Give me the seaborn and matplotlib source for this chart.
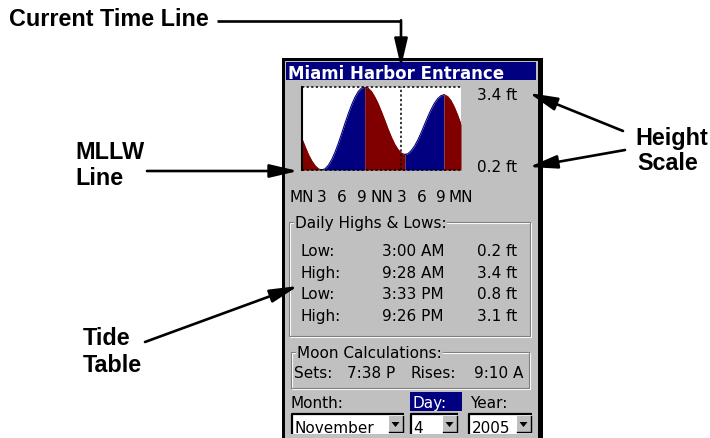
import numpy as np
import pandas as pd
import seaborn as sns
import matplotlib.pyplot as plt
from matplotlib.patches import Rectangle, Polygon

# What the unit shows
station = "Miami Harbor Entrance"
tide_kind = ["Low", "High", "Low", "High"]
tide_time = ["3:00 AM", "9:28 AM", "3:33 PM", "9:26 PM"]
tide_ft = [0.2, 3.4, 0.8, 3.1]

# tide height, every half hour from midnight to midnight
curve_ft = [1.40, 1.08, 0.78, 0.54, 0.36, 0.24, 0.20,
            0.25, 0.39, 0.61, 0.90, 1.24, 1.62, 2.01, 2.38, 2.72, 3.01, 3.23, 3.36,
            3.40, 3.35, 3.22, 3.01, 2.75, 2.44, 2.11, 1.77, 1.46, 1.19, 0.99, 0.85,
            0.80, 0.83, 0.95, 1.13, 1.37, 1.65, 1.96, 2.26, 2.54, 2.78, 2.96, 3.07,
            3.10, 3.03, 2.87, 2.62, 2.31, 1.95]
now_hour = 14.9

scale_top, scale_bottom = 3.4, 0.2
hour_ticks = [0, 3, 6, 9, 12, 15, 18, 21, 24]
hour_labels = ["MN", "3", "6", "9", "NN", "3", "6", "9", "MN"]

moon_sets = "7:38 P"
moon_rises = "9:10 A"
month, day, year = "November", "4", "2005"

GRAY = "#c0c0c0"
NAVY = "#000080"
MAROON = "#800000"
SCREEN = "DejaVu Sans"
CALLOUT = dict(family="Liberation Sans", fontweight="bold", fontsize=16.8, va="baseline")


def to_hours(s):
    hm, ampm = s.split()
    h, m = map(int, hm.split(":"))
    return h % 12 + (12 if ampm == "PM" else 0) + m / 60


# build the curve table, split into rising / falling stretches between turns
turns = [to_hours(t) for t in tide_time]
pts = pd.DataFrame({"hour": np.arange(len(curve_ft)) * 0.5, "ft": curve_ft})
pts = pd.concat([pts, pd.DataFrame({"hour": turns, "ft": tide_ft})])
pts = pts.drop_duplicates("hour", keep="last").sort_values("hour")

bounds = [0] + turns + [24]
phases = ["falling" if k == "Low" else "rising" for k in tide_kind]
phases.append("falling" if tide_kind[-1] == "High" else "rising")
parts = []
for i in range(len(bounds) - 1):
    d = pts[(pts.hour >= bounds[i]) & (pts.hour <= bounds[i + 1])].copy()
    d["segment"] = i
    d["phase"] = phases[i]
    parts.append(d)
df = pd.concat(parts, ignore_index=True)
palette = {"falling": MAROON, "rising": NAVY}

fig = plt.figure(figsize=(7.1, 4.39), dpi=100)
ax = fig.add_axes([0, 0, 1, 1])
ax.set_xlim(0, 710)
ax.set_ylim(439, 0)
ax.axis("off")

# unit frame
ax.add_patch(Rectangle((282, 59), 261, 400, fc="black", ec="none"))
ax.add_patch(Rectangle((285, 62), 253, 400, fc=GRAY, ec="none"))
ax.add_patch(Rectangle((286, 63), 250, 18, fc=NAVY, ec="none"))
ax.text(288, 79, station, color="white", family=SCREEN, fontweight="bold",
        fontsize=12, va="baseline")

ax.text(517, 100, f"{scale_top} ft", family=SCREEN, fontsize=11, ha="right", va="baseline")
ax.text(517, 172, f"{scale_bottom} ft", family=SCREEN, fontsize=11, ha="right", va="baseline")


def etched(x0, y0, x1, y1):
    ax.add_patch(Rectangle((x0 + 1, y0 + 1), x1 - x0, y1 - y0, fill=False, ec="white", lw=0.8))
    ax.add_patch(Rectangle((x0, y0), x1 - x0, y1 - y0, fill=False, ec="#808080", lw=0.8))


# daily highs & lows
etched(289, 223, 530, 337)
ax.text(295, 228.5, "Daily Highs & Lows:", family=SCREEN, fontsize=11, va="baseline",
        bbox=dict(fc=GRAY, ec="none", pad=0.5))
for i, (k, t, f) in enumerate(zip(tide_kind, tide_time, tide_ft)):
    y = 256 + i * 21.7
    ax.text(301, y, k + ":", family=SCREEN, fontsize=11, va="baseline")
    ax.text(444, y, t, family=SCREEN, fontsize=11, va="baseline", ha="right")
    ax.text(517, y, f"{f} ft", family=SCREEN, fontsize=11, va="baseline", ha="right")

# moon
etched(291, 353, 529, 389)
ax.text(297, 358, "Moon Calculations:", family=SCREEN, fontsize=11, va="baseline",
        bbox=dict(fc=GRAY, ec="none", pad=0.5))
ax.text(294, 378, "Sets:", family=SCREEN, fontsize=11, va="baseline")
ax.text(395, 378, moon_sets, family=SCREEN, fontsize=11, va="baseline", ha="right")
ax.text(410, 378, "Rises:", family=SCREEN, fontsize=11, va="baseline")
ax.text(523, 378, moon_rises, family=SCREEN, fontsize=11, va="baseline", ha="right")

# date pickers
ax.add_patch(Rectangle((410, 393), 52, 19, fc=NAVY, ec="none"))
ax.text(290, 408, "Month:", family=SCREEN, fontsize=11, va="baseline")
ax.text(413, 408, "Day:", family=SCREEN, fontsize=11, va="baseline", color="white")
ax.text(470, 408, "Year:", family=SCREEN, fontsize=11, va="baseline")


def combo(x0, x1, label):
    ax.add_patch(Rectangle((x0, 415), x1 - x0, 20, fc="white", ec="none"))
    ax.plot([x0, x0, x1], [435, 415, 415], color="black", lw=1.6, solid_capstyle="butt")
    bx = x1 - 15
    ax.add_patch(Rectangle((bx, 417.5), 13.5, 16, fc=GRAY, ec="none"))
    ax.plot([bx, bx + 13.5, bx + 13.5], [433.5, 433.5, 417.5], color="black", lw=1)
    cx = bx + 6.5
    ax.add_patch(Polygon([(cx - 4, 423), (cx + 4, 423), (cx, 428)], fc="black", ec="none"))
    ax.text(x0 + 2.5, 433, label, family=SCREEN, fontsize=11, va="baseline")


combo(292, 404, month)
combo(411, 458, day)
combo(469, 532, year)

# tide graph
cax = fig.add_axes([302 / 710, (439 - 171) / 439, 159 / 710, 83 / 439])
cax.set_facecolor("white")
for seg, d in df.groupby("segment"):
    cax.fill_between(d["hour"], scale_bottom, d["ft"], color=palette[d["phase"].iloc[0]], lw=0)
sns.lineplot(data=df, x="hour", y="ft", hue="phase", units="segment", estimator=None,
             palette=palette, legend=False, lw=0.8, ax=cax)
cax.axvline(now_hour, color="black", lw=1.1, ls=(0, (1.5, 1.5)))
for yv in (scale_top, scale_bottom):
    cax.axhline(yv, color="black", lw=1.1, ls=(0, (1.5, 1.5)), clip_on=False)
cax.set_xlim(0, 24)
cax.set_ylim(scale_bottom, scale_top)
cax.set_xticks(hour_ticks, hour_labels)
cax.set_yticks([])
cax.set_xlabel("")
cax.set_ylabel("")
cax.tick_params(axis="x", length=0, pad=13.5, labelsize=11)
for lab in cax.get_xticklabels():
    lab.set_family(SCREEN)
for s in ("top", "bottom", "right"):
    cax.spines[s].set_visible(False)
cax.spines["left"].set_linewidth(1.5)

# callouts
ARROW = dict(arrowstyle="-|>,head_length=1.7,head_width=0.4", color="black", lw=1.9,
             shrinkA=0, shrinkB=0, mutation_scale=10)


def arrow(x0, y0, x1, y1):
    ax.annotate("", xy=(x1, y1), xytext=(x0, y0), arrowprops=ARROW, zorder=5)


ax.text(9, 26, "Current Time Line", **CALLOUT)
ax.plot([217, 401], [22, 22], color="black", lw=1.9, solid_capstyle="butt")
arrow(401, 21.3, 401, 68)

ax.text(75, 159, "MLLW", **CALLOUT)
ax.text(75, 185, "Line", **CALLOUT)
arrow(147, 172, 298, 172)

ax.text(635, 145, "Height", **CALLOUT)
ax.text(637, 170, "Scale", **CALLOUT)
arrow(623, 132, 529, 94)
arrow(625, 151, 529, 168)

ax.text(83, 345, "Tide", **CALLOUT)
ax.text(83, 372, "Table", **CALLOUT)
arrow(145, 343, 298, 287)

fig.savefig("out.png", dpi=100)
